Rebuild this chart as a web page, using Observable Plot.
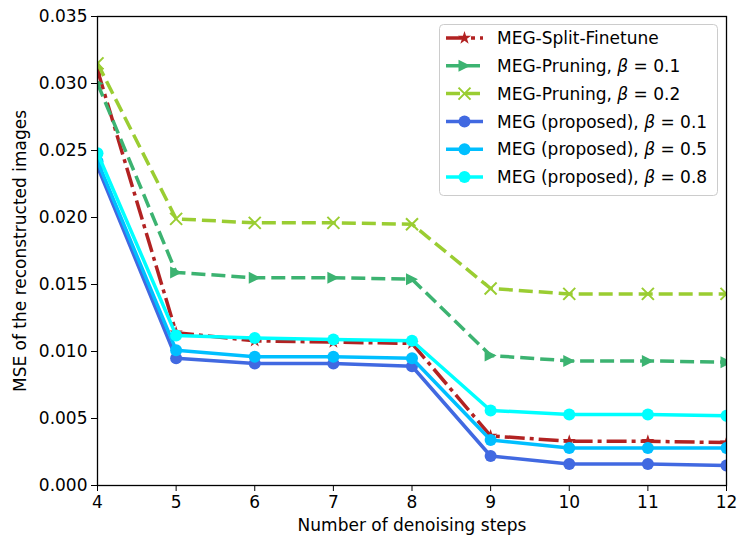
<!DOCTYPE html>
<html><head><meta charset="utf-8">
<script src="https://cdn.jsdelivr.net/npm/d3@7"></script>
<script src="https://cdn.jsdelivr.net/npm/@observablehq/plot@0.6"></script>
<style>
body{margin:0;background:#fff;}
#wrap{position:relative;width:738px;height:538px;font-family:"DejaVu Sans",sans-serif;}
#legend{position:absolute;left:0;top:0;}
</style>
</head><body><div id="wrap"></div>
<script>
// ---- data ----
const steps = [4, 5, 6, 7, 8, 9, 10, 11, 12];
const splitFinetune = [0.0310, 0.0114, 0.0108, 0.0107, 0.0106, 0.0037, 0.0033, 0.0033, 0.0032];
const pruning01     = [0.0300, 0.0159, 0.0155, 0.0155, 0.0154, 0.0097, 0.0093, 0.0093, 0.0092];
const pruning02     = [0.0315, 0.0199, 0.0196, 0.0196, 0.0195, 0.0147, 0.0143, 0.0143, 0.0143];
const meg01         = [0.0238, 0.0095, 0.0091, 0.0091, 0.0089, 0.0022, 0.0016, 0.0016, 0.0015];
const meg05         = [0.0242, 0.0101, 0.0096, 0.0096, 0.0095, 0.0034, 0.0028, 0.0028, 0.0028];
const meg08         = [0.0248, 0.0112, 0.0110, 0.0109, 0.0108, 0.0056, 0.0053, 0.0053, 0.0052];
const yTicks = [0, 0.005, 0.010, 0.015, 0.020, 0.025, 0.030, 0.035];
const seriesNames = ["MEG-Split-Finetune", "MEG-Pruning, β = 0.1", "MEG-Pruning, β = 0.2",
  "MEG (proposed), β = 0.1", "MEG (proposed), β = 0.5", "MEG (proposed), β = 0.8"];

// ---- symbols ----
const triRight = {draw(ctx, size){ const r = Math.sqrt(size/Math.PI); ctx.moveTo(r,0); ctx.lineTo(-r,-r); ctx.lineTo(-r,r); ctx.closePath(); }};
const xMark = {draw(ctx, size){ const r = Math.sqrt(size/Math.PI); ctx.moveTo(-r,-r); ctx.lineTo(r,r); ctx.moveTo(-r,r); ctx.lineTo(r,-r); }};
const circ = {draw(ctx, size){ const r = Math.sqrt(size/Math.PI); ctx.moveTo(r,0); ctx.arc(0,0,r,0,2*Math.PI); }};
const star = {draw(ctx, size){ d3.symbolStar.draw(ctx, size*0.7); }};

const styles = [
  {values: splitFinetune, color: "#b22222", dash: "20,5,4,5", symbol: star, r: 5, fill: true},
  {values: pruning01, color: "#3cb371", dash: "14,6", symbol: triRight, r: 6, fill: true},
  {values: pruning02, color: "#9acd32", dash: "14,6", symbol: xMark, r: 6, fill: false},
  {values: meg01, color: "#4169e1", dash: null, symbol: circ, r: 6, fill: true},
  {values: meg05, color: "#00bfff", dash: null, symbol: circ, r: 6, fill: true},
  {values: meg08, color: "#00ffff", dash: null, symbol: circ, r: 6, fill: true}
];

const marks = [];
styles.forEach((s, k) => {
  const data = steps.map((x, i) => ({step: x, mse: s.values[i], name: seriesNames[k]}));
  marks.push(Plot.line(data, {x: "step", y: "mse", stroke: s.color, strokeWidth: 3.5,
    strokeDasharray: s.dash || undefined, strokeLinecap: "butt", strokeLinejoin: "round", clip: true}));
  marks.push(Plot.dot(data, {x: "step", y: "mse", symbol: s.symbol, r: s.r,
    fill: s.fill ? s.color : "none", stroke: s.color, strokeWidth: s.fill ? 0 : 2, clip: true}));
});

const chart = Plot.plot({
  width: 738, height: 538,
  marginLeft: 97, marginRight: 12, marginTop: 16, marginBottom: 53,
  style: {fontFamily: "DejaVu Sans", fontSize: "17px", color: "black", background: "white"},
  x: {domain: [4, 12]},
  y: {domain: [0, 0.035]},
  marks: [
    ...marks,
    Plot.frame({stroke: "black", strokeWidth: 1.3}),
    Plot.axisX({ticks: steps, tickSize: 6, tickPadding: 4, tickFormat: d => String(d),
      label: "Number of denoising steps", labelAnchor: "center", labelArrow: "none", labelOffset: 45}),
    Plot.axisY({ticks: yTicks, tickSize: 6, tickPadding: 4, tickFormat: d3.format(".3f"),
      label: "MSE of the reconstructed images", labelAnchor: "center", labelArrow: "none", labelOffset: 84})
  ]
});
const wrap = document.getElementById("wrap");
wrap.appendChild(chart);

// ---- legend ----
const L = d3.select(wrap).append("svg").attr("id", "legend").attr("width", 738).attr("height", 538);
L.append("rect").attr("x", 439.5).attr("y", 24.5).attr("width", 278).attr("height", 171)
  .attr("rx", 4).attr("fill", "white").attr("fill-opacity", 0.8).attr("stroke", "#cccccc");
styles.forEach((s, k) => {
  const cy = 38 + k * 27.8;
  const g = L.append("g");
  g.append("line").attr("x1", 446).attr("x2", 483).attr("y1", cy).attr("y2", cy)
    .attr("stroke", s.color).attr("stroke-width", 3.5).attr("stroke-dasharray", s.dash || null);
  g.append("path").attr("transform", `translate(464.5,${cy})`)
    .attr("d", d3.symbol(s.symbol, s.r * s.r * Math.PI)())
    .attr("fill", s.fill ? s.color : "none").attr("stroke", s.fill ? "none" : s.color).attr("stroke-width", 2);
  const t = g.append("text").attr("x", 497).attr("y", cy).attr("dy", "0.36em")
    .attr("font-family", "DejaVu Sans").attr("font-size", 17).attr("fill", "black");
  const name = seriesNames[k];
  const bi = name.indexOf("β");
  if (bi < 0) t.text(name);
  else {
    t.append("tspan").text(name.slice(0, bi));
    t.append("tspan").attr("font-style", "italic").text("β");
    t.append("tspan").text(name.slice(bi + 1));
  }
});
</script>
</body></html>
